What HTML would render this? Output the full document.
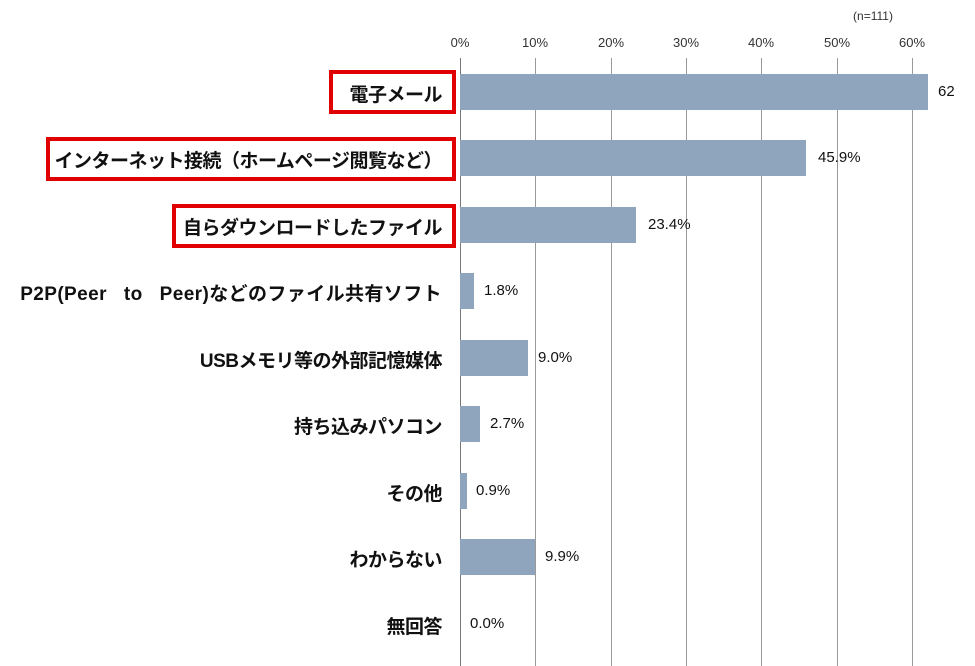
<!DOCTYPE html>
<html><head><meta charset="utf-8"><style>
body{margin:0;background:#fff;width:975px;height:666px;overflow:hidden;position:relative;font-family:"Liberation Sans","Noto Sans CJK JP",sans-serif}
.g{position:absolute;top:58px;height:608px;width:1px;background:#999}
.t{position:absolute;top:35px;font-size:13px;color:#333;width:40px;text-align:center}
.bar{position:absolute;left:460px;height:36px;background:#8fa5bd}
.v{position:absolute;font-size:15px;color:#111}
.l{position:absolute;right:533px;font-size:19px;font-weight:bold;color:#111;white-space:nowrap;letter-spacing:-0.5px}
.box{position:absolute;border:4px solid #e00000;box-sizing:border-box}
</style></head><body>
<div class="t" style="left:843px;top:9px;width:60px;font-size:12px">(n=111)</div>
<div class="g" style="left:460px;background:#777"></div>
<div class="g" style="left:535px"></div><div class="g" style="left:611px"></div><div class="g" style="left:686px"></div><div class="g" style="left:761px"></div><div class="g" style="left:837px"></div><div class="g" style="left:912px"></div>
<div class="t" style="left:440px">0%</div><div class="t" style="left:515px">10%</div><div class="t" style="left:591px">20%</div><div class="t" style="left:666px">30%</div><div class="t" style="left:741px">40%</div><div class="t" style="left:817px">50%</div><div class="t" style="left:892px">60%</div>

<div class="box" style="left:329px;top:70px;width:127px;height:44px"></div>
<div class="box" style="left:46px;top:137px;width:410px;height:44px"></div>
<div class="box" style="left:172px;top:204px;width:284px;height:44px"></div>

<div class="bar" style="top:74px;width:468px"></div><div class="v" style="left:938px;top:83px">62</div>
<div class="bar" style="top:140px;width:346px"></div><div class="v" style="left:818px;top:149px">45.9%</div>
<div class="bar" style="top:207px;width:176px"></div><div class="v" style="left:648px;top:216px">23.4%</div>
<div class="bar" style="top:273px;width:14px"></div><div class="v" style="left:484px;top:282px">1.8%</div>
<div class="bar" style="top:340px;width:68px"></div><div class="v" style="left:538px;top:349px">9.0%</div>
<div class="bar" style="top:406px;width:20px"></div><div class="v" style="left:490px;top:415px">2.7%</div>
<div class="bar" style="top:473px;width:7px"></div><div class="v" style="left:476px;top:482px">0.9%</div>
<div class="bar" style="top:539px;width:75px"></div><div class="v" style="left:545px;top:548px">9.9%</div>
<div class="v" style="left:470px;top:615px">0.0%</div>

<div class="l" style="top:80px">電子メール</div>
<div class="l" style="top:146px">インターネット接続（ホームページ閲覧など）</div>
<div class="l" style="top:213px">自らダウンロードしたファイル</div>
<div class="l" style="top:279px;letter-spacing:0.4px">P2P(Peer&nbsp;&nbsp; to&nbsp;&nbsp; Peer)などのファイル共有ソフト</div>
<div class="l" style="top:346px">USBメモリ等の外部記憶媒体</div>
<div class="l" style="top:412px">持ち込みパソコン</div>
<div class="l" style="top:479px">その他</div>
<div class="l" style="top:545px">わからない</div>
<div class="l" style="top:612px">無回答</div>
</body></html>
